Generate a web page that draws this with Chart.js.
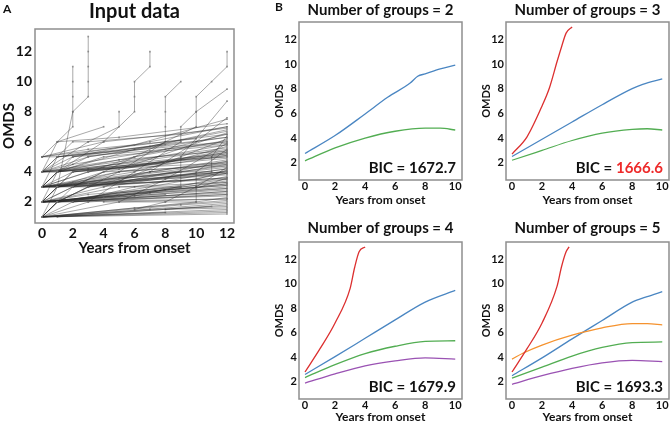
<!DOCTYPE html>
<html>
<head>
<meta charset="utf-8">
<script src="https://cdn.jsdelivr.net/npm/chart.js@4"></script>
<style>
  body { margin: 0; background: #fff; }
  #wrap { position: relative; width: 671px; height: 425px; overflow: hidden; }
  canvas { position: absolute; }
</style>
</head>
<body>
<div id="wrap">
  <canvas id="panelA" width="245" height="257" style="left:0;top:0"></canvas>
  <canvas id="k2" width="197" height="207" style="left:273px;top:0"></canvas>
  <canvas id="k3" width="191" height="207" style="left:480px;top:0"></canvas>
  <canvas id="k4" width="197" height="205" style="left:273px;top:220px"></canvas>
  <canvas id="k5" width="191" height="205" style="left:480px;top:220px"></canvas>
</div>
<script>
// tick labels
const aXTicks = [0, 2, 4, 6, 8, 10, 12];
const aYTicks = [2, 4, 6, 8, 10, 12];
const bXTicks = [0, 2, 4, 6, 8, 10];
const bYTicks = [2, 4, 6, 8, 10, 12];

// panel A: individual patients, [year, OMDS] visits
const patients = [
  [[0,1],[12,1.2]], [[0,1],[12,1.5]], [[0,1],[11,1.7]], [[0,1],[12,1.9]],
  [[0,1],[10,2],[12,2.3]], [[0,1],[6,1.6],[12,2.1]], [[0,1],[1,2],[5,2.6],[12,3.1]],
  [[0,1],[2,2],[8,2.5]], [[0,1],[1,3],[4,3.5],[9,4]], [[0,1],[12,1.4]],
  [[0,1],[9,1.8],[12,2.0]], [[0,1],[8,1.3]], [[0,1],[3,2],[12,2.5]], [[0,1],[1,2],[12,2.9]],
  [[0,1],[12,1.3]], [[0,1],[7,1.5],[12,1.7]], [[0,1],[1,2],[2,2],[12,2.7]], [[0,1],[2,3],[12,3.6]],
  [[0,1],[1,2],[3,3],[12,4.2]], [[0,1],[5,2],[12,2.2]],
  [[0,2],[12,2.6]], [[0,2],[12,3.0]], [[0,2],[4,2.3],[12,2.8]], [[0,2],[1,2],[5,2.4],[12,3.4]],
  [[0,2],[2,3],[7,3.5],[12,4.2]], [[0,2],[1,3],[3,3.2],[12,4.0]], [[0,2],[3,2.5],[9,3]],
  [[0,2],[6,2.4],[12,3.7]], [[0,2],[1,4],[6,4.5],[12,5.1]], [[0,2],[2,4],[8,4.6]],
  [[0,2],[12,2.2]], [[0,2],[5,3],[12,3.3]], [[0,2],[10,2.9],[12,3.6]],
  [[0,2],[1,3],[2,4],[12,4.9]], [[0,2],[4,3],[10,3.9]], [[0,2],[2,2.2],[12,3.5]],
  [[0,2],[1,2],[3,3],[12,4.5]], [[0,2],[7,2.6],[12,2.9]], [[0,2],[12,2.4]], [[0,2],[12,3.2]],
  [[0,2],[3,2.3],[12,3.9]], [[0,2],[1,3],[5,3.3],[12,4.7]], [[0,2],[2,3],[4,4],[12,5.3]],
  [[0,2],[8,2.8],[12,3.1]], [[0,2],[1,2],[12,2.5]],
  [[0,3],[12,3.8]], [[0,3],[12,4.3]], [[0,3],[2,3.2],[12,4.6]], [[0,3],[1,4],[6,4.4],[12,5.4]],
  [[0,3],[3,4],[9,4.8],[12,5]], [[0,3],[1,3],[5,3.6],[12,4.0]], [[0,3],[2,5],[7,5.4],[12,6]],
  [[0,3],[4,3.5],[12,4.8]], [[0,3],[1,5],[4,5.3],[12,6.3]], [[0,3],[6,4],[12,5.7]],
  [[0,3],[8,3.6],[12,3.9]], [[0,3],[3,3],[10,3.5],[12,4.1]], [[0,3],[1,4],[3,5],[8,5.8]],
  [[0,3],[2,4],[5,4.2],[12,5.2]], [[0,3],[1,3],[4,4],[12,4.4]], [[0,3],[12,3.5]], [[0,3],[12,4.0]],
  [[0,3],[2,3.3],[12,4.7]], [[0,3],[1,4],[12,5.5]], [[0,3],[3,4],[6,5],[12,6.5]],
  [[0,3],[1,3],[12,3.6]], [[0,3],[5,4],[12,4.5]],
  [[0,4],[12,5.2]], [[0,4],[12,5.6]], [[0,4],[1,4],[6,5],[12,6.1]], [[0,4],[2,5],[9,6]],
  [[0,4],[1,5],[7,5.7],[12,6.8]], [[0,4],[4,4.3],[12,5]], [[0,4],[3,6],[9,6.5],[12,7]],
  [[0,4],[1,6],[2,7],[2,8],[2,9],[2,10],[2,11]], [[0,4],[5,4.8],[12,5.4]],
  [[0,4],[2,4.5],[8,5.5],[12,5.9]], [[0,4],[12,4.6]], [[0,4],[1,5],[12,6.0]], [[0,4],[3,5],[12,6.3]],
  [[0,4],[1,4],[4,5],[12,5.8]],
  [[0,5],[12,6.5]], [[0,5],[1,5],[6,5.8],[12,7.5]], [[0,5],[3,5.5],[10,6.2]], [[0,5],[4,6],[12,6.9]],
  [[0,5],[1,6],[5,6.3],[12,7.2]],
  [[1,6],[4,7]], [[1,5],[2,6],[3,6],[5,7],[5,8]],
  [[1,3],[2,8],[3,9],[3,10],[3,11],[3,12],[3,13]],
  [[1,4],[4,6],[6,8],[6,9],[6,10],[7,11],[7,12]],
  [[1,2],[5,4],[8,6],[8,7],[8,8],[8,9],[9,10]],
  [[2,3],[6,5],[10,7],[10,8],[10,9],[11,10],[12,11],[12,12]],
  [[3,2],[6,4],[9,6],[9,7],[10,8],[12,9.5]],
  [[1,4],[3,4.2],[12,5.8]], [[2,4],[6,4.5],[12,6.6]], [[5,2],[8,3.5],[12,5.9]],
  [[4,3],[9,5],[12,8.7]], [[7,4],[10,6],[12,7.6]], [[2,3],[12,3.9]], [[1,3],[12,4.4]],
  [[1,2],[12,3.2]], [[2,2],[12,2.7]], [[1,1],[12,1.8]], [[8,1.5],[12,1.6]],
  [[6,1.5],[8,2],[10,3],[12,4.3]], [[5,3],[9,3],[9,4],[9,5],[12,6.2]],
  [[4,2],[8,2],[10,2],[10,3],[10,4],[12,5.5]], [[3,3],[7,4],[11,4],[11,5],[12,6.4]],
  [[1,3],[5,4],[12,5.1]], [[2,5],[7,6],[12,7.0]], [[1,4],[6,5.5],[12,6.7]], [[3,4],[12,5.3]],
  [[1,2],[4,2.5],[12,3.3]], [[2,2],[6,3],[12,4.1]]
];

// panel B: fitted group trajectories, [year, OMDS]
const k2Blue  = [[0,2.75],[2,4.2],[4,5.95],[5.5,7.3],[7,8.45],[7.5,9.0],[8,9.2],[9,9.6],[10,9.9]];
const k2Green = [[0,2.15],[2,3.2],[4,4.0],[6,4.55],[8,4.8],[9,4.8],[10,4.65]];

const k3Red   = [[0,2.7],[1,4.1],[2,6.6],[2.5,8.1],[3,10.2],[3.3,11.4],[3.6,12.5],[4,13.0]];
const k3Blue  = [[0,2.5],[2,3.9],[4,5.3],[6,6.7],[8,8.0],[8.7,8.35],[10,8.8]];
const k3Green = [[0,2.2],[2,3.0],[4,3.8],[6,4.4],[8,4.7],[9,4.75],[10,4.65]];

const k4Red    = [[0,2.8],[1,4.7],[2,6.8],[3,9.6],[3.3,11.3],[3.6,12.6],[4,13.0]];
const k4Blue   = [[0,2.6],[2,4.05],[4,5.55],[6,7.05],[8,8.5],[10,9.45]];
const k4Green  = [[0,2.35],[2,3.4],[4,4.3],[6,4.9],[8,5.3],[10,5.35]];
const k4Purple = [[0,1.9],[2,2.65],[4,3.3],[6,3.7],[8,3.95],[10,3.85]];

const k5Red    = [[0,2.8],[1,4.7],[2,6.8],[3,9.8],[3.3,11.4],[3.6,12.6],[3.8,13.0]];
const k5Orange = [[0,3.85],[0.75,4.35],[2,5.0],[4,5.8],[6,6.4],[8,6.75],[9,6.75],[10,6.65]];
const k5Blue   = [[0,2.5],[2,3.95],[4,5.5],[6,7.0],[8,8.5],[9,8.95],[10,9.35]];
const k5Green  = [[0,2.3],[2,3.2],[4,4.1],[6,4.8],[8,5.2],[10,5.25]];
const k5Purple = [[0,1.8],[2,2.5],[4,3.1],[6,3.55],[8,3.75],[10,3.65]];

const bicValues = ['1672.7', '1666.6', '1679.9', '1693.3'];

const BLUE = '#4a86c2', GREEN = '#52ad52', RED = '#dc2f2f', ORANGE = '#f5922e', PURPLE = '#9a52b3';
const FONT = 'Lato, "Open Sans", sans-serif';

// frame, ticks, axis titles and panel texts, placed from the chart's own scales
const panelText = {
  id: 'panelText',
  afterDraw(chart) {
    const ctx = chart.ctx, a = chart.chartArea, o = chart.options.plugins.panelText;
    const xs = chart.scales.x, ys = chart.scales.y;
    ctx.save();
    ctx.strokeStyle = '#8e8e8e';
    ctx.lineWidth = 1.5;
    ctx.strokeRect(a.left, a.top, a.right - a.left, a.bottom - a.top);
    ctx.fillStyle = '#111';
    ctx.textBaseline = 'middle';

    // tick labels
    ctx.font = 'bold ' + o.tick + 'px ' + FONT;
    ctx.textAlign = 'center';
    o.xTicks.forEach(v => ctx.fillText(String(v), xs.getPixelForValue(v), a.bottom + o.xTickOff));
    ctx.textAlign = 'right';
    o.yTicks.forEach(v => ctx.fillText(String(v), a.left - o.yTickPad, ys.getPixelForValue(v)));

    // axis titles
    ctx.textAlign = 'center';
    ctx.font = 'bold ' + o.xTitle + 'px ' + FONT;
    ctx.fillText('Years from onset', (a.left + a.right) / 2, a.bottom + o.xTitleOff);
    ctx.save();
    ctx.translate(o.yTitleX, (a.top + a.bottom) / 2);
    ctx.rotate(-Math.PI / 2);
    ctx.font = 'bold ' + o.yTitle + 'px ' + FONT;
    ctx.fillText('OMDS', 0, 0);
    ctx.restore();

    // panel title and letter
    ctx.font = 'bold ' + o.titleSize + 'px ' + FONT;
    ctx.fillText(o.title, (a.left + a.right) / 2, o.titleY);
    if (o.letter) {
      ctx.font = 'bold 12px ' + FONT;
      ctx.textAlign = 'left';
      ctx.fillText(o.letter, o.letterX, o.letterY);
    }
    // BIC label, value part may be coloured
    if (o.bic) {
      ctx.font = 'bold 15px ' + FONT;
      ctx.textAlign = 'right';
      const x = a.right - 6, y = a.bottom - 12;
      ctx.fillStyle = o.bicColor || '#111';
      ctx.fillText(o.bic, x, y);
      const w = ctx.measureText(o.bic).width;
      ctx.fillStyle = '#111';
      ctx.fillText('BIC = ', x - w, y);
    }
    ctx.restore();
  }
};

function toXY(pairs) {
  return pairs.map(p => ({ x: p[0], y: p[1] }));
}

// Panel A
new Chart(document.getElementById('panelA'), {
  type: 'line',
  data: {
    datasets: patients.map(p => ({
      data: toXY(p),
      borderColor: 'rgba(40,40,40,0.5)',
      borderWidth: 0.8,
      pointStyle: 'rect',
      pointRadius: 1.2,
      pointBackgroundColor: 'rgba(120,120,120,0.75)',
      pointBorderWidth: 0,
      tension: 0
    }))
  },
  options: {
    responsive: false, animation: false, events: [],
    layout: { padding: { top: 29, right: 11, left: 35, bottom: 34 } },
    plugins: {
      legend: { display: false }, tooltip: { enabled: false },
      panelText: {
        title: 'Input data', titleSize: 20, titleY: 12, letter: 'A', letterX: 3, letterY: 9,
        xTicks: aXTicks, yTicks: aYTicks, tick: 14, xTickOff: 10, yTickPad: 3,
        xTitle: 15, xTitleOff: 25, yTitle: 15, yTitleX: 9
      }
    },
    scales: {
      x: { type: 'linear', display: false, min: -0.45, max: 12.45 },
      y: { type: 'linear', display: false, min: 0.6, max: 13.5 }
    }
  },
  plugins: [panelText]
});

// Panel B, one chart per number of groups
const bPanels = [
  { id: 'k2', n: 2, series: [[k2Blue, BLUE], [k2Green, GREEN]], bic: bicValues[0], bottom: 27, titleY: 10, letter: 'B' },
  { id: 'k3', n: 3, series: [[k3Red, RED], [k3Blue, BLUE], [k3Green, GREEN]], bic: bicValues[1], bicColor: '#ee2a2a', bottom: 27, titleY: 10 },
  { id: 'k4', n: 4, series: [[k4Red, RED], [k4Blue, BLUE], [k4Green, GREEN], [k4Purple, PURPLE]], bic: bicValues[2], bottom: 26, titleY: 8 },
  { id: 'k5', n: 5, series: [[k5Red, RED], [k5Orange, ORANGE], [k5Blue, BLUE], [k5Green, GREEN], [k5Purple, PURPLE]], bic: bicValues[3], bottom: 26, titleY: 8 }
];

bPanels.forEach(p => {
  const narrow = p.id === 'k3' || p.id === 'k5';
  new Chart(document.getElementById(p.id), {
    type: 'line',
    data: {
      datasets: p.series.map(s => ({
        data: toXY(s[0]),
        borderColor: s[1],
        borderWidth: 1.3,
        pointRadius: 0,
        cubicInterpolationMode: 'monotone'
      }))
    },
    options: {
      responsive: false, animation: false, events: [],
      layout: { padding: { top: 22, right: narrow ? 2 : 8, left: 26, bottom: p.bottom } },
      plugins: {
        legend: { display: false }, tooltip: { enabled: false },
        panelText: {
          title: 'Number of groups = ' + p.n, titleSize: 15, titleY: p.titleY,
          letter: p.letter, letterX: 2, letterY: 7, bic: p.bic, bicColor: p.bicColor,
          xTicks: bXTicks, yTicks: bYTicks, tick: 11, xTickOff: 6, yTickPad: 2,
          xTitle: 12, xTitleOff: p.bottom === 27 ? 20 : 18, yTitle: 11, yTitleX: 6
        }
      },
      scales: {
        x: { type: 'linear', display: false, min: -0.4, max: 10.45 },
        y: { type: 'linear', display: false, min: 0.6, max: 13.4 }
      }
    },
    plugins: [panelText]
  });
});
</script>
</body>
</html>
